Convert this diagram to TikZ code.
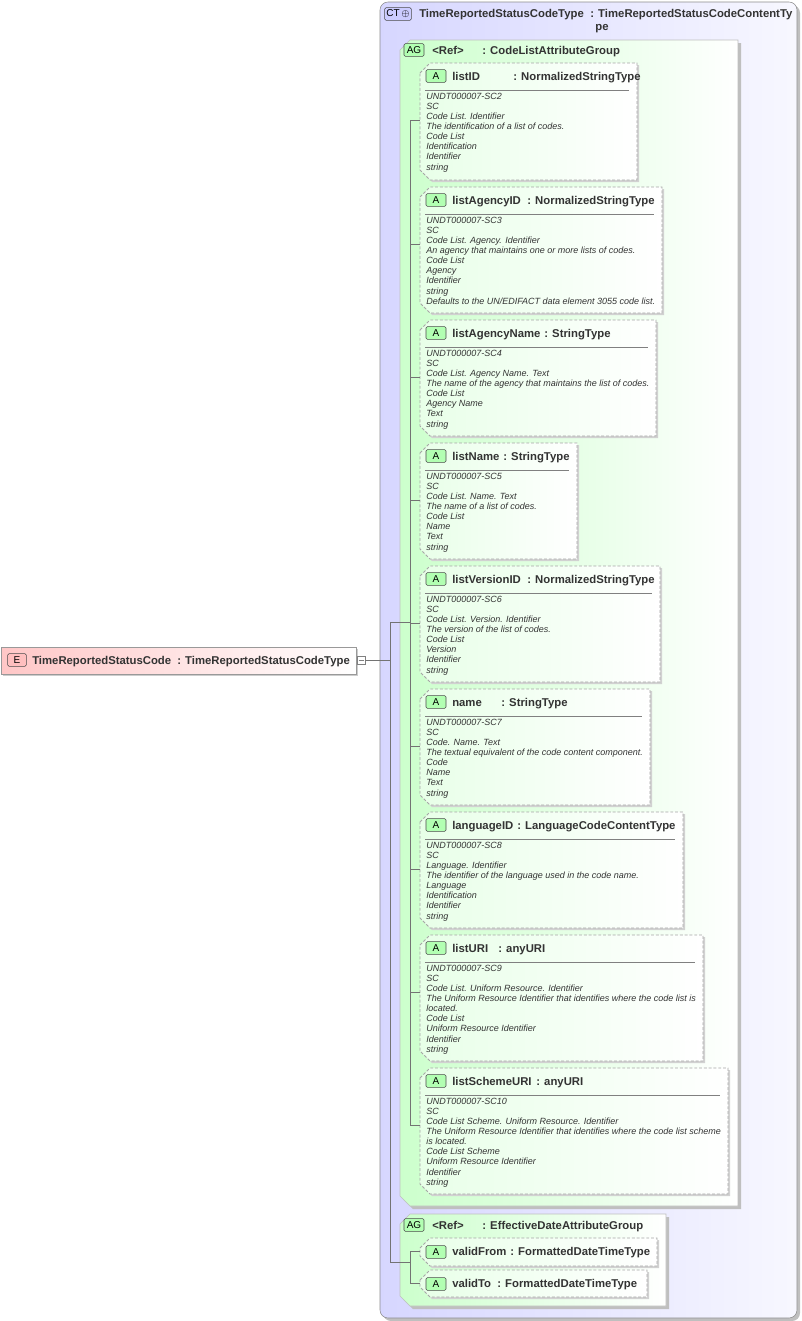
\documentclass[tikz,border=0pt]{standalone}
\usepackage{fontspec}
\setmainfont{Liberation Sans}
\begin{document}
\begin{tikzpicture}[x=0.75pt,y=-0.75pt,
  hdr/.style={font=\fontsize{8.5}{10}\selectfont\bfseries, text=black!80, inner sep=0pt, anchor=base west},
  desc/.style={font=\fontsize{6.75}{7.55}\selectfont\itshape, text=black!80, align=left, inner sep=0pt, anchor=north west},
  badgeA/.style={draw=black!70, fill=green!30!white, font=\fontsize{7.5}{8}\selectfont, minimum width=15pt, minimum height=9.5pt, inner sep=0pt, rounded corners=1pt},
  conn/.style={draw=black!55, line width=0.5pt},
  abox/.style={draw=black!35, dash pattern=on 2.2pt off 1.4pt, line width=0.7pt}]
\useasboundingbox (0,0) rectangle (801,1321);
% CT box
\fill[black!25, rounded corners=6pt] (383,5) rectangle (800,1321);
\path[left color=blue!16!white, right color=blue!3!white, rounded corners=6pt, draw=black!45] (380,2) rectangle (797,1318);
\node[badgeA, fill=blue!20!white, minimum width=20pt] (ctb) at (398,14) {CT\,$\oplus$};
\node[hdr] (ctn) at (419,17) {TimeReportedStatusCodeType};
\node[hdr] (ctt) at (590,17) {: TimeReportedStatusCodeContentTy};
\node[hdr, anchor=base] (ctt2) at (602,30) {pe};
% E box
\fill[black!20] (3,649) rectangle (358,676);
\path[left color=red!22!white, right color=white, draw=black!40] (1,647) rectangle (356,674);
\node[badgeA, fill=red!25!white, minimum width=14pt] (eb) at (17,660) {E};
\node[hdr] (en) at (32,664) {TimeReportedStatusCode};
\node[hdr] (et) at (177,664) {: TimeReportedStatusCodeType};
\node[draw=black!50, fill=white, minimum width=6pt, minimum height=6pt, inner sep=0pt] (minus) at (361,660) {};
\draw[black!50] (358.5,660) -- (363.5,660);
% AG1
\newcommand\agpath[4]{(#1,#2+10) -- (#1+10,#2) -- (#3,#2) -- (#3,#4) -- (#1+10,#4) -- (#1,#4-10) -- cycle}
\fill[black!25] \agpath{403}{43}{741}{1209};
\path[left color=green!20!white, right color=white, draw=black!25] \agpath{400}{40}{738}{1206};
\node[badgeA] (ag1b) at (414,50) {AG};
\node[hdr] (ag1n) at (432,54) {<Ref>};
\node[hdr] (ag1t) at (482,54) {: CodeListAttributeGroup};
% AG2
\fill[black!25] \agpath{403}{1217}{669}{1309};
\path[left color=green!20!white, right color=white, draw=black!25] \agpath{400}{1214}{666}{1306};
\node[badgeA] (ag2b) at (414,1225) {AG};
\node[hdr] (ag2n) at (432,1229) {<Ref>};
\node[hdr] (ag2t) at (482,1229) {: EffectiveDateAttributeGroup};
% connectors main
\coordinate (sp) at (390,660);
\coordinate (sp1) at (390,622);
\coordinate (sp2) at (390,1262);
\coordinate (c1) at (410,622);
\coordinate (c2) at (410,1262);
\draw[conn] (minus.east) -- (sp);
\draw[conn] (sp1) -- (sp2);
\draw[conn] (sp1) -- (c1);
\draw[conn] (sp2) -- (c2);
\draw[conn] (410,120) -- (410,1125);
\draw[conn] (410,1251) -- (410,1283);
\newcommand\ab[9]{%
  \fill[black!18] \agpath{#2+2}{#3+2}{#4+2}{#5+2};
  \path[left color=green!9!white, right color=white] \agpath{#2}{#3}{#4}{#5};
  \draw[abox] \agpath{#2}{#3}{#4}{#5};
  \node[badgeA] (#1b) at (#2+16,#3+13) {A};
  \node[hdr] (#1n) at (#2+32,#3+17) {#6};
  \node[hdr] (#1t) at (#7,#3+17) {: #8};
  \draw[black!50] (#2+5,#3+27) -- (#4-8,#3+27);
  \node[desc] (#1d) at (#2+6,#3+30) {#9};
  \coordinate (#1c) at (#2,#3+57);
  \draw[conn] (410,#3+57) -- (#1c);
}
\ab{a1}{420}{63}{637}{180}{listID}{513}{NormalizedStringType}{UNDT000007-SC2\\SC\\Code List. Identifier\\The identification of a list of codes.\\Code List\\Identification\\Identifier\\string}
\ab{a2}{420}{187}{662}{313}{listAgencyID}{527}{NormalizedStringType}{UNDT000007-SC3\\SC\\Code List. Agency. Identifier\\An agency that maintains one or more lists of codes.\\Code List\\Agency\\Identifier\\string\\Defaults to the UN/EDIFACT data element 3055 code list.}
\ab{a3}{420}{320}{656}{436}{listAgencyName}{544}{StringType}{UNDT000007-SC4\\SC\\Code List. Agency Name. Text\\The name of the agency that maintains the list of codes.\\Code List\\Agency Name\\Text\\string}
\ab{a4}{420}{443}{577}{559}{listName}{503}{StringType}{UNDT000007-SC5\\SC\\Code List. Name. Text\\The name of a list of codes.\\Code List\\Name\\Text\\string}
\ab{a5}{420}{566}{660}{682}{listVersionID}{527}{NormalizedStringType}{UNDT000007-SC6\\SC\\Code List. Version. Identifier\\The version of the list of codes.\\Code List\\Version\\Identifier\\string}
\ab{a6}{420}{689}{650}{805}{name}{501}{StringType}{UNDT000007-SC7\\SC\\Code. Name. Text\\The textual equivalent of the code content component.\\Code\\Name\\Text\\string}
\ab{a7}{420}{812}{683}{928}{languageID}{517}{LanguageCodeContentType}{UNDT000007-SC8\\SC\\Language. Identifier\\The identifier of the language used in the code name.\\Language\\Identification\\Identifier\\string}
\ab{a8}{420}{935}{703}{1061}{listURI}{498}{anyURI}{UNDT000007-SC9\\SC\\Code List. Uniform Resource. Identifier\\The Uniform Resource Identifier that identifies where the code list is\\located.\\Code List\\Uniform Resource Identifier\\Identifier\\string}
\ab{a9}{420}{1068}{728}{1194}{listSchemeURI}{536}{anyURI}{UNDT000007-SC10\\SC\\Code List Scheme. Uniform Resource. Identifier\\The Uniform Resource Identifier that identifies where the code list scheme\\is located.\\Code List Scheme\\Uniform Resource Identifier\\Identifier\\string}
\newcommand\sab[7]{%
  \fill[black!18] \agpath{#2+2}{#3+2}{#4+2}{#5+2};
  \path[left color=green!9!white, right color=white] \agpath{#2}{#3}{#4}{#5};
  \draw[abox] \agpath{#2}{#3}{#4}{#5};
  \node[badgeA] (#1b) at (#2+16,#3+14) {A};
  \node[hdr] (#1n) at (#2+32,#3+17) {#6};
  \node[hdr] (#1t) at (#7,#3+17) {: FormattedDateTimeType};
  \coordinate (#1c) at (#2,#3+13);
  \draw[conn] (410,#3+13) -- (#1c);
}
\sab{v1}{420}{1238}{657}{1266}{validFrom}{510}
\sab{v2}{420}{1270}{647}{1297}{validTo}{497}
\end{tikzpicture}
\end{document}
